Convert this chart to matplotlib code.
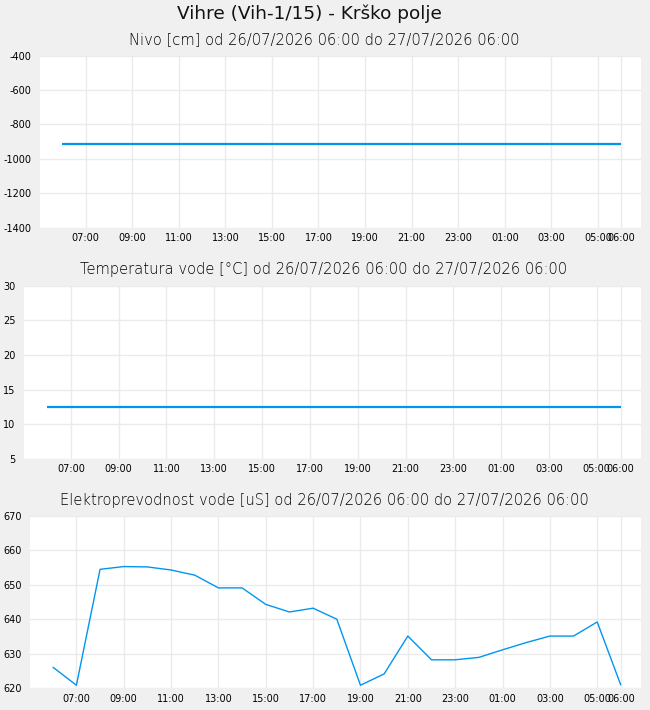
import datetime as dt
import numpy as np
import matplotlib
matplotlib.use('Agg')
import matplotlib.pyplot as plt
import matplotlib.dates as mdates

plt.rcParams['axes.unicode_minus'] = False

naslov = 'Vihre (Vih-1/15) - Krško polje'
obdobje = 'od 26/07/2026 06:00 do 27/07/2026 06:00'
zacetek = dt.datetime(2026, 7, 26, 6, 0)

# urne meritve 06:00 -> 06:00 (25 vrednosti)
nivo = [-913, -913, -913, -913, -913, -913, -913, -913, -913, -913, -913, -913, -913,
        -913, -913, -913, -913, -913, -913, -913, -913, -913, -913, -913, -913]
temperatura = [12.4, 12.4, 12.4, 12.4, 12.4, 12.4, 12.4, 12.4, 12.4, 12.4, 12.4, 12.4, 12.4,
               12.4, 12.4, 12.4, 12.4, 12.4, 12.4, 12.4, 12.4, 12.4, 12.4, 12.4, 12.4]
prevodnost = [626.1, 620.8, 654.5, 655.3, 655.2, 654.3, 652.8, 649.1, 649.1, 644.3, 642.1, 643.2,
              640.0, 620.8, 624.1, 635.1, 628.2, 628.2, 628.9, 631.1, 633.2, 635.1, 635.1, 639.2, 620.8]

cas = [zacetek + dt.timedelta(hours=h) for h in range(len(prevodnost))]
konec = cas[-1]

BARVA = '#0096f0'
OZADJE = '#f0f0f0'
MREZA = '#ebebeb'

paneli = [
    # podatki, podnaslov, ylim, yticks, polozaj [l, r, top, bottom] v px, debelina, y podnaslova
    (nivo, 'Nivo [cm] ' + obdobje, (-1400, -400), np.arange(-1400, -399, 200),
     (40, 641, 55.7, 227.7), 1.6, 40),
    (temperatura, 'Temperatura vode [°C] ' + obdobje, (5, 30), np.arange(5, 31, 5),
     (24, 641, 285.7, 458.7), 1.6, 270),
    (prevodnost, 'Elektroprevodnost vode [uS] ' + obdobje, (620, 670), np.arange(620, 671, 10),
     (30, 641, 516, 688), 1.0, 500),
]

W, H = 650, 710
fig = plt.figure(figsize=(W / 100, H / 100), dpi=100)
fig.patch.set_facecolor(OZADJE)

fig.text(309 / W, 1 - 14 / H, naslov, ha='center', va='center', fontsize=13.3, color='#111111')

xticks = [zacetek + dt.timedelta(hours=h) for h in range(1, 24, 2)] + [konec]

for podatki, podnaslov, ylim, yticks, (l, r, t, b), lw, ty in paneli:
    ax = fig.add_axes([l / W, 1 - b / H, (r - l) / W, (b - t) / H])
    ax.set_facecolor('white')
    for s in ax.spines.values():
        s.set_visible(False)
    ax.plot(cas, podatki, color=BARVA, lw=lw, solid_capstyle='butt')
    ax.set_ylim(*ylim)
    ax.set_yticks(yticks)
    ax.set_xlim(zacetek - dt.timedelta(hours=0.96), konec + dt.timedelta(hours=0.85))
    ax.set_xticks(xticks)
    ax.xaxis.set_major_formatter(mdates.DateFormatter('%H:%M'))
    ax.tick_params(length=0, labelsize=7, colors='black')
    ax.tick_params(axis='y', pad=6)
    ax.tick_params(axis='x', pad=4)
    ax.grid(True, color=MREZA, lw=1)
    ax.set_axisbelow(True)
    fig.text(324 / W, 1 - ty / H, podnaslov, ha='center', va='center',
             fontsize=10.6, color='black', fontweight='light')

fig.savefig('out.png', dpi=100, facecolor=OZADJE)
